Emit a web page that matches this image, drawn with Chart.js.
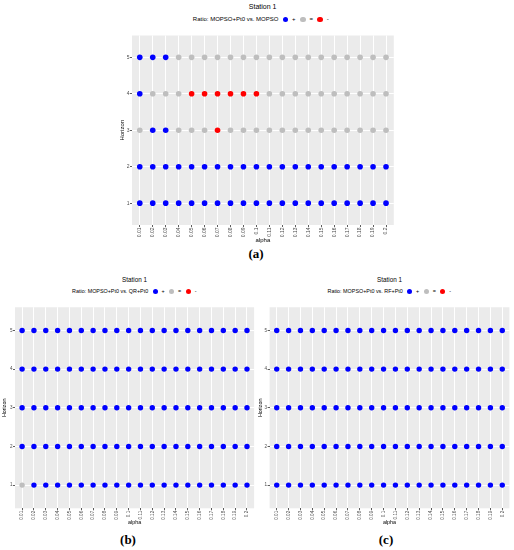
<!DOCTYPE html>
<html>
<head>
<meta charset="utf-8">
<script src="https://cdn.jsdelivr.net/npm/chart.js@4.4.0/dist/chart.umd.min.js"></script>
<style>
  body { margin: 0; width: 514px; height: 550px; position: relative; overflow: hidden; background: #fff;
         font-family: "Liberation Sans", Arial, sans-serif; color: #000; }
  canvas { position: absolute; }
  .title, .legend { position: absolute; width: 240px; text-align: center; white-space: nowrap; }
  .legend { display: flex; justify-content: center; align-items: center; }
  .legend .dot { display: inline-block; border-radius: 50%; margin-right: 3.7px; }
  .legend .key { margin-right: 4.5px; }
  .legend .name { margin-right: 4.5px; }
  .sub { position: absolute; width: 60px; text-align: center; font-family: "Liberation Serif", serif;
         font-weight: bold; font-size: 13px; line-height: 14px; }
</style>
</head>
<body>

<div class="title" id="titleA" style="left:142.7px; top:3px; font-size:7px; line-height:8px;">Station 1</div>
<div class="legend" id="legendA" style="left:143px; top:16px; font-size:6px; line-height:7px;"></div>
<canvas id="chartA" width="281" height="212" style="left:119px; top:32px;"></canvas>
<div class="sub" style="left:226px; top:247px;">(a)</div>

<div class="title" id="titleB" style="left:14.5px; top:275.5px; font-size:6.3px; line-height:7px;">Station 1</div>
<div class="legend" id="legendB" style="left:16.5px; top:287.8px; font-size:5.4px; line-height:7px;"></div>
<canvas id="chartB" width="256" height="222" style="left:1px; top:304px;"></canvas>
<div class="sub" style="left:98px; top:533px;">(b)</div>

<div class="title" id="titleC" style="left:269.5px; top:275.5px; font-size:6.3px; line-height:7px;">Station 1</div>
<div class="legend" id="legendC" style="left:271.5px; top:287.8px; font-size:5.4px; line-height:7px;"></div>
<canvas id="chartC" width="257" height="222" style="left:257px; top:304px;"></canvas>
<div class="sub" style="left:356px; top:533px;">(c)</div>

<script>
const alphaLabels = ['0.01', '0.02', '0.03', '0.04', '0.05', '0.06', '0.07', '0.08', '0.09', '0.1',
  '0.11', '0.12', '0.13', '0.14', '0.15', '0.16', '0.17', '0.18', '0.19', '0.2'];
const horizonTicks = [1, 2, 3, 4, 5];
const signs = ['+', '=', '-'];
const signColors = ['#0000FF', '#BEBEBE', '#FF0000'];

// one string per horizon 1..5, one sign per alpha
const ratioMopso = [
  '++++++++++++++++++++',
  '++++++++++++++++++++',
  '=++===-=============',
  '+===------==========',
  '+++================='
];
const ratioQr = [
  '=+++++++++++++++++++',
  '++++++++++++++++++++',
  '++++++++++++++++++++',
  '++++++++++++++++++++',
  '++++++++++++++++++++'
];
const ratioRf = [
  '++++++++++++++++++++',
  '++++++++++++++++++++',
  '++++++++++++++++++++',
  '++++++++++++++++++++',
  '++++++++++++++++++++'
];

Chart.defaults.font.family = '"Liberation Sans", Arial, sans-serif';

const panelBg = {
  id: 'panelBg',
  beforeDraw(chart) {
    const { ctx, chartArea: a } = chart;
    ctx.save();
    ctx.fillStyle = '#EBEBEB';
    ctx.fillRect(a.left, a.top, a.right - a.left, a.bottom - a.top);
    ctx.restore();
  }
};

function fillLegend(id, text, dot) {
  const el = document.getElementById(id);
  let html = '<span class="name">' + text + '</span>';
  signs.forEach((sg, k) => {
    html += '<span class="dot" style="width:' + dot + 'px;height:' + dot + 'px;background:' + signColors[k] + '"></span>' +
            '<span class="key">' + sg + '</span>';
  });
  el.innerHTML = html;
}

function drawPanel(id, rows, s) {
  const datasets = signs.map((sg, k) => ({
    label: sg,
    data: rows.flatMap((row, h) => row.split('')
      .map((c, i) => c === sg ? { x: i + 1, y: horizonTicks[h] } : null)
      .filter(p => p)),
    backgroundColor: signColors[k],
    borderWidth: 0,
    pointRadius: s.r,
    pointHoverRadius: s.r
  }));

  const grid = { color: '#FFFFFF', lineWidth: 1, tickColor: '#333333', tickLength: 2, tickWidth: 0.8 };

  new Chart(document.getElementById(id), {
    type: 'scatter',
    data: { datasets },
    plugins: [panelBg],
    options: {
      responsive: false,
      animation: false,
      layout: { padding: { left: 0, right: s.padRight, top: 0, bottom: 0 } },
      plugins: { legend: { display: false }, tooltip: { enabled: false } },
      scales: {
        x: {
          type: 'linear',
          min: 0.4,
          max: alphaLabels.length + 0.6,
          afterBuildTicks: sc => { sc.ticks = alphaLabels.map((_, i) => ({ value: i + 1 })); },
          afterFit: sc => { sc.height = s.xh; },
          ticks: {
            autoSkip: false, maxRotation: 90, minRotation: 90, padding: 0.5,
            color: '#4D4D4D', font: { size: s.tick },
            callback: (v, i) => alphaLabels[i]
          },
          grid: grid,
          border: { display: false },
          title: { display: true, text: 'alpha', color: '#000', font: { size: s.lab }, padding: 0 }
        },
        y: {
          type: 'linear',
          min: 0.4,
          max: horizonTicks.length + 0.6,
          afterBuildTicks: sc => { sc.ticks = horizonTicks.map(v => ({ value: v })); },
          afterFit: sc => { sc.width = s.yw; },
          ticks: { padding: 0.5, color: '#4D4D4D', font: { size: s.tick }, callback: v => String(v) },
          grid: grid,
          border: { display: false },
          title: { display: true, text: 'Horizon', color: '#000', font: { size: s.lab }, padding: 0 }
        }
      }
    }
  });
}

fillLegend('legendA', 'Ratio: MOPSO+Pt0 vs. MOPSO', 5.6);
fillLegend('legendB', 'Ratio: MOPSO+Pt0 vs. QR+Pt0', 5.2);
fillLegend('legendC', 'Ratio: MOPSO+Pt0 vs. RF+Pt0', 5.2);

drawPanel('chartA', ratioMopso, { r: 2.8, tick: 5, lab: 6, xh: 19, yw: 13, padRight: 6.2 });
drawPanel('chartB', ratioQr, { r: 2.7, tick: 4.6, lab: 5.4, xh: 17.7, yw: 14, padRight: 2.9 });
drawPanel('chartC', ratioRf, { r: 2.7, tick: 4.6, lab: 5.4, xh: 17.7, yw: 12.6, padRight: 4.6 });
</script>
</body>
</html>
